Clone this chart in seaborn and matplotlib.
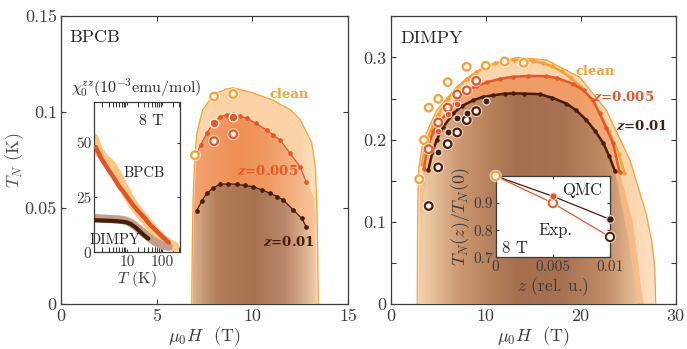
import numpy as np
import matplotlib
matplotlib.use("Agg")
import matplotlib.pyplot as plt
import matplotlib.patheffects as pe
from matplotlib.colors import LinearSegmentedColormap
from matplotlib.patches import Polygon
import seaborn as sns

# ---------------- data ----------------
# BPCB: clean phase boundary (outline of the dome)
bp_dome_H = [6.83, 6.86, 6.9, 6.98, 7.1, 7.4, 7.96, 8.66, 9.0, 10.0, 11.1, 12.0, 12.5, 13.1, 13.3, 13.4, 13.45]
bp_dome_T = [0.0, 0.03, 0.054, 0.075, 0.089, 0.101, 0.109, 0.112, 0.1125, 0.110, 0.106, 0.101, 0.096, 0.084, 0.071, 0.04, 0.0]
# BPCB: QMC transition lines for z=0.005 and z=0.01
bp_z1_H = [7.09, 7.3, 7.62, 7.95, 8.31, 8.65, 9.0, 9.35, 9.71, 10.2, 10.75, 11.1, 11.45, 11.97, 12.5, 12.81]
bp_z1_T = [0.0785, 0.083, 0.089, 0.094, 0.0975, 0.0985, 0.099, 0.098, 0.0967, 0.094, 0.0906, 0.088, 0.0854, 0.0785, 0.0715, 0.0637]
bp_z2_H = [7.09, 7.35, 7.62, 7.95, 8.31, 8.75, 9.18, 9.6, 10.05, 10.5, 10.93, 11.3, 11.62, 12.14, 12.58, 12.81]
bp_z2_T = [0.0487, 0.0535, 0.0577, 0.0605, 0.0624, 0.0626, 0.0624, 0.0618, 0.0611, 0.0595, 0.0577, 0.056, 0.0542, 0.049, 0.0447, 0.0403]
# BPCB: experimental points
bp_clean_exp_H = [7.0, 8.0, 9.0]
bp_clean_exp_T = [0.0775, 0.108, 0.1093]
bp_z1_exp_H = [8.0, 9.0]
bp_z1_exp_T = [0.0848, 0.0884]
bp_z1_qmc_H = [8.0, 9.0]
bp_z1_qmc_T = [0.0944, 0.0975]

# DIMPY: clean phase boundary
dm_dome_H = [2.8, 2.82, 2.86, 2.95, 3.43, 4.84, 6.95, 9.75, 13.26, 16.4, 19.9, 22.7, 25.2, 26.9, 27.5, 27.8, 27.9]
dm_dome_T = [0.0, 0.08, 0.13, 0.165, 0.1996, 0.236, 0.264, 0.2886, 0.300, 0.297, 0.276, 0.236, 0.175, 0.11, 0.075, 0.046, 0.0]
# DIMPY: QMC transition lines
dm_clean_H = [3.3, 3.6, 4.0, 4.5, 5.0, 6.0, 7.0, 8.0, 9.0, 10.0, 11.0, 12.0, 13.0, 14.0, 15.0, 16.0, 17.0, 18.0, 19.0, 20.0, 21.0, 22.0, 23.0, 24.0, 24.6]
dm_clean_T = [0.17, 0.19, 0.205, 0.218, 0.23, 0.25, 0.263, 0.274, 0.282, 0.288, 0.293, 0.296, 0.297, 0.297, 0.296, 0.293, 0.289, 0.283, 0.275, 0.264, 0.25, 0.232, 0.21, 0.183, 0.160]
dm_z1_H = [3.5, 3.86, 4.5, 5.0, 5.9, 7.0, 8.0, 9.0, 10.1, 11.5, 12.9, 14.5, 16.4, 17.5, 19.2, 20.3, 21.3, 22.0, 22.7, 23.4, 24.1]
dm_z1_T = [0.165, 0.191, 0.21, 0.22, 0.232, 0.248, 0.26, 0.265, 0.2697, 0.274, 0.2765, 0.2775, 0.2773, 0.275, 0.268, 0.26, 0.248, 0.232, 0.214, 0.196, 0.161]
dm_z2_H = [3.96, 4.4, 4.84, 5.5, 6.6, 7.5, 8.7, 9.7, 10.8, 12.0, 12.9, 14.0, 15.7, 17.0, 18.5, 19.5, 20.6, 21.5, 22.4, 23.0, 23.6]
dm_z2_T = [0.163, 0.185, 0.1996, 0.215, 0.232, 0.241, 0.248, 0.252, 0.254, 0.256, 0.2563, 0.256, 0.2554, 0.251, 0.244, 0.236, 0.224, 0.211, 0.1955, 0.18, 0.162]
# DIMPY: experimental (open) and QMC (filled) points
dm_clean_exp_H = [3.0, 3.5, 4.0, 5.0, 6.0, 8.0, 10.0, 12.0, 14.0]
dm_clean_exp_T = [0.152, 0.1996, 0.239, 0.2497, 0.27, 0.2886, 0.290, 0.2951, 0.2935]
dm_z1_exp_H = [4.0, 5.0, 6.0, 7.0, 8.0, 9.0]
dm_z1_exp_T = [0.1886, 0.221, 0.239, 0.255, 0.260, 0.2716]
dm_z1_qmc_H = [5.0, 6.0, 7.0]
dm_z1_qmc_T = [0.211, 0.2308, 0.2433]
dm_z2_exp_H = [4.0, 5.0, 6.0, 7.0, 8.0, 9.0]
dm_z2_exp_T = [0.1194, 0.1664, 0.1947, 0.2089, 0.2239, 0.2348]
dm_z2_qmc_H = [5.0, 6.0, 7.0, 8.0, 10.0]
dm_z2_qmc_T = [0.1854, 0.209, 0.226, 0.2327, 0.247]

# susceptibility at 8 T
chi_bp_T = [1.15, 1.3, 1.6, 2.0, 2.5, 3.0, 3.5, 4.0, 5.0, 6.0, 8.0, 10, 14, 20, 30, 45, 70, 100, 150, 220]
chi_bp = [52, 49.5, 46, 44, 42, 41, 40, 38.5, 36, 33.5, 29.5, 26.5, 22.5, 19, 15.5, 12, 8.5, 6, 4, 2.5]
chi_bp_core_T = [1.3, 1.6, 2.0, 2.5, 3.0, 4.0, 5.0, 6.0, 8.0, 10, 14, 20, 30, 45, 70, 100, 150]
chi_bp_core = [48, 45, 42, 39.5, 37.5, 34.5, 32, 30, 27.5, 25.3, 22, 19, 16, 12.5, 9.5, 7, 4.5]
chi_dm_T = [1.15, 1.5, 2, 3, 4, 5, 6, 8, 10, 13, 17, 22, 30, 40, 55, 75, 100, 150]
chi_dm = [15.5, 15.5, 15.3, 15.2, 15.1, 15.0, 14.9, 14.6, 14.2, 13.3, 12.0, 10.5, 8.6, 7.0, 5.3, 4.0, 3.2, 2.5]
chi_dm_core_T = [1.2, 1.5, 2, 3, 4, 5, 6, 8, 10, 13, 17, 22, 30, 40]
chi_dm_core = [14.6, 14.6, 14.5, 14.4, 14.3, 14.2, 14.1, 13.9, 13.6, 12.8, 11.5, 9.8, 7.8, 6.2]

# reduced Neel temperature at 8 T versus doping
ratio_z = [0.0, 0.005, 0.01]
ratio_qmc = [1.0, 0.925, 0.84]
ratio_exp = [1.0, 0.90, 0.775]

# ---------------- style ----------------
sns.set_style("ticks")
plt.rcParams.update({
    "font.family": ["cmr10", "DejaVu Serif"],
    "mathtext.fontset": "cm",
    "axes.formatter.use_mathtext": True,
    "axes.unicode_minus": False,
    "axes.edgecolor": "#3c3c3c",
    "axes.linewidth": 0.9,
    "xtick.color": "#3c3c3c",
    "ytick.color": "#3c3c3c",
    "text.color": "#262626",
})

C_CLEAN = "#f7a036"
C_Z1 = "#e2582a"
C_Z2 = "#4a1c0c"
GREY = "#3c3c3c"

fig = plt.figure(figsize=(6.87, 3.49), dpi=100)
axL = fig.add_axes([0.0888, 0.1281, 0.4178, 0.8269])
axR = fig.add_axes([0.5687, 0.1281, 0.4148, 0.8252])


def shade(ax, hs, ts, stops, colors, z):
    """Fill the region under (hs, ts) with a horizontal colour gradient."""
    poly = Polygon(np.column_stack([hs, ts]), closed=True, fc="none", ec="none")
    ax.add_patch(poly)
    cmap = LinearSegmentedColormap.from_list("g", list(zip(stops, colors)))
    grad = np.linspace(0, 1, 256)[None, :]
    im = ax.imshow(grad, extent=[min(hs), max(hs), 0, max(ts)], origin="lower",
                   aspect="auto", cmap=cmap, zorder=z, interpolation="bilinear")
    im.set_clip_path(poly)


def closed(hs_left, ts_left, hs, ts, hs_right, ts_right):
    return (list(hs_left) + list(hs) + list(hs_right),
            list(ts_left) + list(ts) + list(ts_right))


def open_pts(ax, hs, ts, col, s=30, lw=1.6, z=8):
    sns.scatterplot(x=hs, y=ts, ax=ax, s=s, color="#fdf6f0", edgecolor=col,
                    linewidth=lw, zorder=z, legend=False, clip_on=False,
                    path_effects=[pe.withStroke(linewidth=lw + 1.6, foreground="white", alpha=0.6)])


def filled_pts(ax, hs, ts, col, s=26, z=9, ec="white"):
    sns.scatterplot(x=hs, y=ts, ax=ax, s=s, color=col, edgecolor=ec,
                    linewidth=0.9, zorder=z, legend=False, clip_on=False)


def frame(ax):
    ax.tick_params(direction="in", which="both", top=True, right=True,
                   length=3.5, width=0.8, labelsize=13, labelcolor=GREY, pad=3)
    for sp in ax.spines.values():
        sp.set_visible(True)
        sp.set_color(GREY)


# ---------------- BPCB panel ----------------
shade(axL, bp_dome_H, bp_dome_T, [0, 0.15, 0.85, 1],
      ["#fcdcb8", "#fbd3a7", "#fbd3a7", "#fde2c4"], 1)
h, t = closed([6.88, 6.95], [0.0, 0.05], bp_z1_H, bp_z1_T, [13.25, 13.35], [0.055, 0.0])
shade(axL, h, t, [0, 0.35, 0.6, 1], ["#f2a470", "#ee8f55", "#f09a62", "#f8c69c"], 2)
h, t = closed([6.88, 6.95], [0.0, 0.04], bp_z2_H, bp_z2_T, [13.2, 13.3], [0.03, 0.0])
shade(axL, h, t, [0, 0.2, 0.5, 0.75, 1], ["#d9b08e", "#b27b59", "#a87150", "#b98768", "#eecaa6"], 3)

sns.lineplot(x=bp_dome_H, y=bp_dome_T, ax=axL, sort=False, estimator=None,
             color=C_CLEAN, lw=0.9, zorder=4)
sns.lineplot(x=bp_z1_H, y=bp_z1_T, ax=axL, sort=False, estimator=None,
             color=C_Z1, lw=0.9, marker="o", ms=2.6, mec=C_Z1, zorder=5)
sns.lineplot(x=bp_z2_H, y=bp_z2_T, ax=axL, sort=False, estimator=None,
             color=C_Z2, lw=0.9, marker="o", ms=2.6, mec=C_Z2, zorder=5)

open_pts(axL, bp_clean_exp_H, bp_clean_exp_T, C_CLEAN)
open_pts(axL, bp_z1_exp_H, bp_z1_exp_T, C_Z1)
filled_pts(axL, bp_z1_qmc_H, bp_z1_qmc_T, C_Z1, s=40)

lab_kw = dict(fontsize=9.5, fontweight="bold", family="DejaVu Serif",
              math_fontfamily="dejavuserif", zorder=10)
axL.text(11.9, 0.109, "clean", color=C_CLEAN, ha="center", va="center", **lab_kw)
axL.text(10.8, 0.0694, r"$\mathbfit{z}$=0.005", color=C_Z1, ha="center", va="center", **lab_kw)
axL.text(11.9, 0.0325, r"$\mathbfit{z}$=0.01", color=C_Z2, ha="center", va="center", **lab_kw)
axL.text(0.45, 0.139, "BPCB", fontsize=13, ha="left", va="center", color="#262626")

axL.set_xlim(0, 15)
axL.set_ylim(0, 0.15)
axL.set_xticks([0, 5, 10, 15])
axL.set_xticklabels(["0", "5", "10", "15"])
axL.set_yticks([0, 0.05, 0.1, 0.15])
axL.set_yticklabels(["0", "0.05", "0.1", "0.15"])
axL.set_xlabel(r"$\mu_0H$  (T)", fontsize=13, color=GREY, labelpad=1)
axL.set_ylabel(r"$T_N$ (K)", fontsize=13, color="#555555")
axL.yaxis.set_label_coords(-0.123, 0.5)
frame(axL)

# ---------------- DIMPY panel ----------------
shade(axR, dm_dome_H, dm_dome_T, [0, 0.1, 0.9, 1],
      ["#fde3c6", "#fbd6ac", "#fbd6ac", "#fde3c6"], 1)
h, t = closed([2.95, 3.1], [0.0, 0.14], dm_z1_H, dm_z1_T, [25.5, 26.6], [0.10, 0.0])
shade(axR, h, t, [0, 0.3, 0.7, 1], ["#f6c193", "#ef9c65", "#ef9c65", "#f6c193"], 2)
h, t = closed([3.0, 3.3], [0.0, 0.12], dm_z2_H, dm_z2_T, [25.0, 26.0], [0.08, 0.0])
shade(axR, h, t, [0, 0.2, 0.45, 0.65, 0.85, 1],
      ["#f3d2ad", "#c9946d", "#a56e4e", "#a87252", "#c08a64", "#e8c09a"], 3)

sns.lineplot(x=dm_dome_H, y=dm_dome_T, ax=axR, sort=False, estimator=None,
             color=C_CLEAN, lw=0.9, zorder=4)
for hs, ts, col in [(dm_clean_H, dm_clean_T, C_CLEAN),
                    (dm_z1_H, dm_z1_T, C_Z1),
                    (dm_z2_H, dm_z2_T, C_Z2)]:
    sns.lineplot(x=hs, y=ts, ax=axR, sort=False, estimator=None, color=col,
                 lw=1.8, marker="o", ms=2.4, mec=col, zorder=5)

open_pts(axR, dm_clean_exp_H, dm_clean_exp_T, C_CLEAN)
open_pts(axR, dm_z1_exp_H, dm_z1_exp_T, C_Z1)
filled_pts(axR, dm_z1_qmc_H, dm_z1_qmc_T, C_Z1, s=22, ec="#f4d6c8")
open_pts(axR, dm_z2_exp_H, dm_z2_exp_T, C_Z2)
filled_pts(axR, dm_z2_qmc_H, dm_z2_qmc_T, C_Z2, s=26, ec="#e8e0dc")

axR.text(21.5, 0.2826, "clean", color=C_CLEAN, ha="center", va="center", **lab_kw)
axR.text(24.5, 0.2514, r"$\mathbfit{z}$=0.005", color=C_Z1, ha="center", va="center", **lab_kw)
axR.text(26.4, 0.2166, r"$\mathbfit{z}$=0.01", color=C_Z2, ha="center", va="center", **lab_kw)
axR.text(1.0, 0.3235, "DIMPY", fontsize=13, ha="left", va="center", color="#262626")

axR.set_xlim(0, 30)
axR.set_ylim(0, 0.35)
axR.set_xticks([0, 10, 20, 30])
axR.set_xticklabels(["0", "10", "20", "30"])
axR.set_yticks([0, 0.05, 0.1, 0.15, 0.2, 0.25, 0.3, 0.35])
axR.set_yticklabels(["0", "", "0.1", "", "0.2", "", "0.3", ""])
axR.set_xlabel(r"$\mu_0H$  (T)", fontsize=13, color=GREY, labelpad=1)
frame(axR)

# ---------------- susceptibility inset ----------------
axC = fig.add_axes([0.1368, 0.2771, 0.1256, 0.4315])
axC.set_facecolor("white")
sns.lineplot(x=chi_bp_T, y=chi_bp, ax=axC, sort=False, estimator=None,
             color="#fcc684", lw=7, solid_capstyle="round", zorder=2)
sns.lineplot(x=chi_bp_core_T, y=chi_bp_core, ax=axC, sort=False, estimator=None,
             color="#e05525", lw=3.2, solid_capstyle="round", zorder=3)
sns.lineplot(x=chi_dm_T, y=chi_dm, ax=axC, sort=False, estimator=None,
             color="#c2a08a", lw=6, solid_capstyle="round", zorder=2)
sns.lineplot(x=chi_dm_core_T, y=chi_dm_core, ax=axC, sort=False, estimator=None,
             color="#4a1c0c", lw=3, solid_capstyle="round", zorder=3)
axC.set_xscale("log")
axC.set_xlim(1.16, 318)
axC.set_ylim(0, 68.7)
axC.set_xticks([10, 100])
axC.set_xticklabels(["10", "100"])
axC.set_yticks([0, 25, 50])
axC.set_yticklabels(["0", "25", "50"])
frame(axC)
axC.tick_params(labelsize=11, length=2.5, pad=2)
axC.set_xlabel(r"$T$ (K)", fontsize=11.5, color=GREY, labelpad=0)
axC.set_ylabel("")
axC.text(48, 60, "8 T", fontsize=11.5, ha="center", va="center", color="#262626")
axC.text(30, 36, "BPCB", fontsize=10.5, ha="center", va="center", color="#262626")
axC.text(4.4, 5.5, "DIMPY", fontsize=10.5, ha="center", va="center", color="#262626",
         clip_on=False, zorder=6)
fig.text(0.103, 0.748, r"$\chi_0^{zz}$(10$^{-3}$emu/mol)", fontsize=11.5,
         ha="left", va="center", color="#262626")

# ---------------- T_N ratio inset ----------------
axQ = fig.add_axes([0.7215, 0.2628, 0.1664, 0.2330])
axQ.set_facecolor("white")
sns.lineplot(x=ratio_z, y=ratio_qmc, ax=axQ, sort=False, estimator=None,
             color=C_Z2, lw=0.9, zorder=3)
sns.lineplot(x=ratio_z, y=ratio_exp, ax=axQ, sort=False, estimator=None,
             color=C_Z1, lw=0.9, zorder=3)
filled_pts(axQ, ratio_z[1:2], ratio_qmc[1:2], C_Z1, s=26, ec="#d8d0cc")
filled_pts(axQ, ratio_z[2:], ratio_qmc[2:], C_Z2, s=30, ec="#d8d0cc")
open_pts(axQ, ratio_z[1:2], ratio_exp[1:2], C_Z1, s=36, lw=1.4)
open_pts(axQ, ratio_z[2:], ratio_exp[2:], C_Z2, s=36, lw=1.4)
open_pts(axQ, ratio_z[:1], ratio_exp[:1], C_CLEAN, s=36, lw=1.4)
axQ.set_xlim(0, 0.01)
axQ.set_ylim(0.7, 1.0)
axQ.set_xticks([0, 0.005, 0.01])
axQ.set_xticklabels(["0", "0.005", "0.01"])
axQ.set_yticks([0.7, 0.8, 0.9, 1.0])
axQ.set_yticklabels(["0.7", "0.8", "0.9", ""])
frame(axQ)
axQ.tick_params(labelsize=11, length=2.5, pad=2)
axQ.set_xlabel(r"$z$ (rel. u.)", fontsize=12.5, color=GREY, labelpad=1)
axQ.set_ylabel(r"$T_N(z)/T_N(0)$", fontsize=13, color=GREY, labelpad=1)
axQ.text(0.0076, 0.946, "QMC", fontsize=12, ha="center", va="center", color="#262626")
axQ.text(0.0052, 0.80, "Exp.", fontsize=12, ha="center", va="center", color="#262626")
axQ.text(0.0017, 0.734, "8 T", fontsize=12, ha="center", va="center", color="#262626")

fig.savefig("out.png", dpi=100)
